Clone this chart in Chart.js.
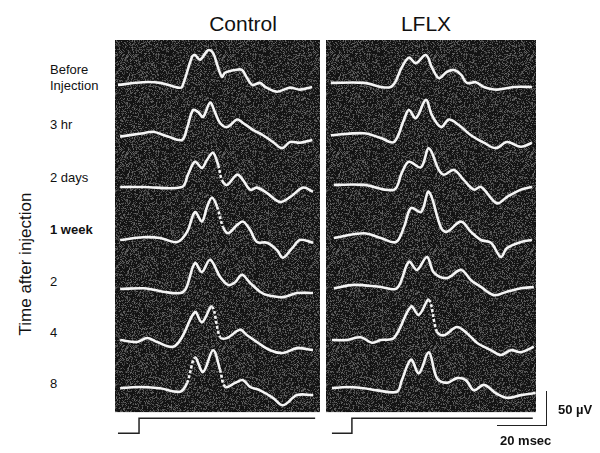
<!DOCTYPE html>
<html>
<head>
<meta charset="utf-8">
<script src="https://cdn.jsdelivr.net/npm/chart.js@4"></script>
<style>
  body { margin: 0; background: #fff; }
  #wrap { position: relative; width: 600px; height: 453px; font-family: "Liberation Sans", Arial, sans-serif; color: #111; }
  canvas { position: absolute; }
  .lbl { position: absolute; font-size: 13px; line-height: 16px; white-space: pre; }
  .title { position: absolute; top: 12px; font-size: 21px; transform: translateX(-50%); }
  #ylab { position: absolute; left: 26px; top: 264px; font-size: 17px; white-space: nowrap;
          transform: translate(-50%, -50%) rotate(-90deg); }
  #bar { position: absolute; left: 497px; top: 391px; width: 49px; height: 34px;
         border-right: 1.5px solid #222; border-bottom: 1.5px solid #222; }
</style>
</head>
<body>
<div id="wrap">
  <div class="title" style="left:243px">Control</div>
  <div class="title" style="left:426px">LFLX</div>
  <div id="ylab">Time after injection</div>
  <canvas id="ctrl" width="205" height="400" style="left:115px;top:40px"></canvas>
  <canvas id="lflx" width="210" height="400" style="left:326px;top:40px"></canvas>
  <div id="bar"></div>
  <div class="lbl" style="left:558px;top:402px;font-weight:bold">50 µV</div>
  <div class="lbl" style="left:500px;top:433px;font-weight:bold">20 msec</div>
</div>
<script>
// rows, top to bottom
const rowLabels = ["Before\nInjection", "3 hr", "2 days", "1 week", "2", "4", "8"];
const rowLabelY = [70, 125, 178, 230, 282, 333, 384];

// Control traces: time (msec after stimulus) and amplitude (µV)
const ctrlTimes = [
  [-7.8, 1.5, 7.8, 14.4, 15.9, 19.6, 20.7, 22.6, 25.6, 27.4, 29.3, 30.7, 31.9, 35.6, 38.1, 40.0, 41.9, 44.8, 46.7, 51.1, 55.9, 59.6, 64.1],
  [-7.0, 1.5, 5.2, 10.7, 15.9, 17.8, 20.0, 21.9, 23.7, 26.3, 28.1, 30.0, 32.6, 36.3, 38.5, 42.2, 45.9, 49.6, 53.0, 55.9, 59.6, 64.1],
  [-7.0, 1.5, 15.9, 18.1, 20.7, 23.3, 25.2, 27.4, 29.3, 30.7, 32.6, 36.3, 38.5, 41.1, 43.7, 47.4, 52.2, 55.9, 60.7, 64.4],
  [-7.0, 1.5, 7.8, 14.1, 17.8, 20.7, 23.3, 25.2, 27.0, 28.9, 31.1, 33.0, 36.3, 38.5, 41.1, 43.7, 47.4, 51.1, 53.3, 56.7, 59.6, 64.4],
  [-7.0, 1.5, 5.2, 8.9, 15.2, 17.4, 20.7, 23.3, 26.3, 30.0, 33.0, 35.6, 38.1, 41.1, 44.8, 47.4, 53.3, 58.5, 64.4],
  [-7.0, -0.7, 3.0, 6.7, 12.6, 15.9, 20.7, 23.3, 27.0, 30.0, 32.6, 37.4, 40.0, 43.7, 48.5, 53.3, 58.5, 64.4],
  [-7.0, -0.7, 7.8, 15.2, 17.8, 20.7, 23.7, 27.4, 30.0, 31.9, 35.6, 38.5, 41.1, 44.8, 49.6, 53.3, 58.5, 64.4]
];
const ctrlUV = [
  [0, 4, 3, -4, -3, 41, 44, 37, 51, 47, 25, 12, 18, 22, 22, 10, 0, 3, -3, -10, -4, -7, -3],
  [-1, 4, 6, -1, -6, 12, 38, 35, 28, 49, 35, 19, 13, 24, 19, 9, 1, -9, -18, -9, -10, -6],
  [0, 0, 0, 18, 37, 28, 40, 50, 32, 10, 3, 18, 10, -4, -1, -9, -22, -15, -1, -7],
  [-3, 1, 0, -6, 9, 38, 24, 46, 59, 46, 16, 7, 19, 24, 12, -6, -7, -18, -29, -15, -3, -7],
  [0, 1, -1, -4, -6, 1, 38, 25, 43, 18, 6, 10, 21, 9, -4, -9, -12, -6, -6],
  [0, -3, 3, -3, -10, 4, 41, 26, 49, 4, 3, 15, 7, -3, -15, -19, -12, -15],
  [4, 6, 4, -1, 12, 49, 28, 60, 31, 6, 12, 16, 6, 1, -10, -21, -6, -6]
];

// LFLX traces
const lflxTimes = [
  [-7.8, 4.4, 14.4, 18.5, 21.1, 23.7, 27.4, 29.6, 32.2, 35.2, 37.8, 40.4, 42.6, 45.9, 48.9, 53.7, 60.0, 66.7],
  [-7.8, 4.4, 10.7, 15.6, 19.3, 21.1, 23.7, 27.4, 29.6, 33.0, 35.9, 39.6, 44.1, 48.9, 53.3, 57.4, 62.6, 66.7],
  [-6.7, 4.4, 15.6, 18.5, 21.1, 25.6, 28.5, 32.2, 34.1, 37.8, 41.5, 45.2, 47.8, 53.7, 57.4, 62.6, 66.7],
  [-6.7, 4.4, 10.7, 16.3, 19.3, 21.9, 25.6, 28.5, 33.0, 35.2, 40.4, 44.1, 47.8, 51.5, 55.2, 57.4, 62.6, 66.7],
  [-6.7, 0.7, 10.7, 16.7, 21.1, 24.1, 27.8, 30.4, 35.2, 40.4, 44.1, 47.8, 52.6, 57.4, 62.6, 67.4],
  [-7.4, -1.9, 3.3, 7.4, 10.7, 15.6, 21.9, 24.8, 28.5, 31.5, 34.1, 38.9, 42.6, 46.3, 51.5, 55.2, 58.9, 62.6, 67.4],
  [-7.4, -1.9, 4.4, 9.3, 16.7, 18.5, 21.9, 24.8, 28.5, 31.5, 35.2, 38.9, 42.2, 45.2, 48.9, 53.3, 57.4, 62.6, 68.1]
];
const lflxUV = [
  [3, 3, -3, 26, 40, 32, 44, 26, 10, 19, 22, 15, 3, 4, -3, -7, -3, -3],
  [1, 4, -3, -9, 24, 38, 26, 53, 31, 13, 24, 16, 1, -10, -18, -9, -16, -10],
  [3, 3, -4, 21, 37, 29, 57, 25, 18, 25, 10, -4, 0, -24, -15, -4, 0],
  [0, 7, 0, -6, 16, 44, 38, 68, 15, 9, 24, 9, -3, -7, -28, -15, -6, -3],
  [1, 6, 3, 1, 40, 28, 47, 24, 16, 28, 13, 3, -9, -4, 1, 3],
  [0, 0, 4, -4, 0, 3, 49, 37, 59, 12, 7, 19, 10, -4, -15, -22, -15, -18, -10],
  [4, 6, 4, 1, -1, 16, 46, 26, 57, 19, 12, 19, 16, 1, 9, -3, -10, -6, -3]
];

// stimulus step drawn under each panel
const ctrlStimTimes = [-7.8, 0, 0, 65.2];
const lflxStimTimes = [-7.4, 0, 0, 67.0];
const stimLevels = [-512, -512, -490, -490];

const ROW_GAP = 75;       // µV between stacked traces
const PANEL_FLOOR = -481; // bottom of the oscilloscope screen
const Y_MAX = 66, Y_MIN = -522;

// labels
const wrap = document.getElementById("wrap");
rowLabels.forEach((t, i) => {
  const d = document.createElement("div");
  d.className = "lbl";
  d.textContent = t;
  d.style.left = "50px";
  d.style.top = (rowLabelY[i] - 8) + "px";
  if (t === "1 week") d.style.fontWeight = "bold";
  wrap.appendChild(d);
});

function speckle() {
  const c = document.createElement("canvas");
  c.width = 97; c.height = 97;
  const g = c.getContext("2d");
  g.fillStyle = "#131313";
  g.fillRect(0, 0, 97, 97);
  let s = 7;
  for (let i = 0; i < 97 * 97; i++) {
    s = (Math.imul(s, 1103515245) + 12345) >>> 0;
    const r = (s >>> 8) % 100;
    if (r < 40) {
      const v = 40 + ((s >>> 16) % 65);
      g.fillStyle = `rgb(${v},${v},${v})`;
      g.fillRect(i % 97, Math.floor(i / 97), 1, 1);
    }
  }
  return c;
}
const noise = speckle();

const screenPlugin = {
  id: "screen",
  beforeDatasetsDraw(chart) {
    const { ctx, chartArea, scales } = chart;
    const bottom = scales.y.getPixelForValue(PANEL_FLOOR);
    ctx.save();
    ctx.fillStyle = ctx.createPattern(noise, "repeat");
    ctx.fillRect(chartArea.left, chartArea.top, chartArea.right - chartArea.left, bottom - chartArea.top);
    ctx.restore();
  }
};

// only the steepest parts of the sweep come out faint and broken
const steep = ctx => {
  const dx = Math.abs(ctx.p1.x - ctx.p0.x), dy = Math.abs(ctx.p1.y - ctx.p0.y);
  return dy > 3.2 * dx ? [3, 2] : undefined;
};

function makeChart(id, times, uv, stimTimes, xMin, xMax) {
  const datasets = times.map((ts, i) => ({
    data: ts.map((t, j) => ({ x: t, y: uv[i][j] - i * ROW_GAP })),
    borderColor: "#f4f4f4",
    borderWidth: 2.6,
    tension: 0.35,
    pointRadius: 0,
    segment: { borderDash: steep }
  }));
  datasets.push({
    data: stimTimes.map((t, j) => ({ x: t, y: stimLevels[j] })),
    borderColor: "#222",
    borderWidth: 1.5,
    tension: 0,
    pointRadius: 0
  });
  new Chart(document.getElementById(id), {
    type: "line",
    data: { datasets },
    options: {
      responsive: false,
      animation: false,
      layout: { padding: 0 },
      scales: {
        x: { type: "linear", min: xMin, max: xMax, display: false },
        y: { min: Y_MIN, max: Y_MAX, display: false }
      },
      plugins: { legend: { display: false }, tooltip: { enabled: false } }
    },
    plugins: [screenPlugin]
  });
}

makeChart("ctrl", ctrlTimes, ctrlUV, ctrlStimTimes, -8.9, 67.0);
makeChart("lflx", lflxTimes, lflxUV, lflxStimTimes, -9.6, 68.2);
</script>
</body>
</html>
